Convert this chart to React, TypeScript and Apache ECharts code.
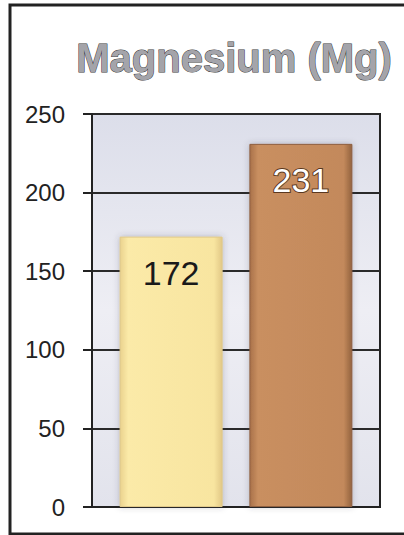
import React, { useEffect, useRef } from "react";
import * as echarts from "echarts";

const titleText = "Magnesium (Mg)";
const groupName = ["Mg"];
const barNames = ["A", "B"];
const barValues = [172, 231];
const yMin = 0;
const yMax = 250;
const yStep = 50;

const barFills = [
  ["#ead28e", "#fbeaa8", "#f8e5a0", "#e2c886"],
  ["#a9714a", "#c98f60", "#c3895b", "#93633f"],
];
const barBorders = ["#e0c98a", "#8f6040"];
const labelStyles = [
  { color: "#1a1a1a", textBorderColor: "transparent", textBorderWidth: 0 },
  { color: "#ffffff", textBorderColor: "#5a3820", textBorderWidth: 2 },
];

export default function App() {
  const ref = useRef<HTMLDivElement>(null);
  useEffect(() => {
    document.body.style.margin = "0";
    const chart = echarts.init(ref.current!, null, { renderer: "svg" });
    const series = barNames.map((name, i) => ({
      name,
      type: "bar",
      data: [barValues[i]],
      barWidth: 103,
      barGap: "26%",
      itemStyle: {
        color: new echarts.graphic.LinearGradient(1, 0, 0, 0, [
          { offset: 0, color: barFills[i][3] },
          { offset: 0.08, color: barFills[i][2] },
          { offset: 0.92, color: barFills[i][1] },
          { offset: 1, color: barFills[i][0] },
        ]),
        borderColor: barBorders[i],
        borderWidth: 1,
        shadowColor: "rgba(60,60,80,0.3)",
        shadowBlur: 6,
      },
      label: {
        show: true,
        position: "insideTop",
        distance: 19,
        fontFamily: "'Liberation Sans', Arial, sans-serif",
        fontSize: 34,
        ...labelStyles[i],
      },
    }));
    chart.setOption({
      animation: false,
      backgroundColor: "#ffffff",
      title: {
        text: titleText,
        left: 229,
        top: 33,
        textAlign: "center",
        textStyle: {
          fontFamily: "'Liberation Sans', Arial, sans-serif",
          fontSize: 40,
          fontWeight: "bold",
          color: "#a4a4aa",
          textBorderColor: "#3a3a3a",
          textBorderWidth: 1,
        },
      },
      graphic: [
        {
          type: "rect",
          shape: { x: 10, y: 5, width: 420, height: 529 },
          style: { fill: "none", stroke: "#222", lineWidth: 3 },
          silent: true,
        },
      ],
      grid: {
        left: 92,
        right: 24,
        top: 114,
        bottom: 28,
        show: true,
        backgroundColor: new echarts.graphic.LinearGradient(0, 0, 0, 1, [
          { offset: 0, color: "#dcdeea" },
          { offset: 0.5, color: "#eeeef4" },
          { offset: 1, color: "#e2e3ec" },
        ]),
        borderColor: "#222",
        borderWidth: 2,
      },
      xAxis: {
        type: "category",
        data: groupName,
        axisLine: { show: true, lineStyle: { color: "#222", width: 2 } },
        axisTick: { show: false },
        axisLabel: { show: false },
      },
      yAxis: {
        type: "value",
        min: yMin,
        max: yMax,
        interval: yStep,
        axisLine: { show: true, lineStyle: { color: "#222", width: 2 } },
        axisTick: { show: true, length: 9, lineStyle: { color: "#222", width: 2 } },
        axisLabel: {
          margin: 27,
          fontFamily: "'Liberation Sans', Arial, sans-serif",
          fontSize: 24,
          color: "#222",
        },
        splitLine: { show: true, lineStyle: { color: "#2a2a2a", width: 2 } },
      },
      series,
    });
    return () => chart.dispose();
  }, []);
  return <div ref={ref} style={{ width: 404, height: 535 }} />;
}
